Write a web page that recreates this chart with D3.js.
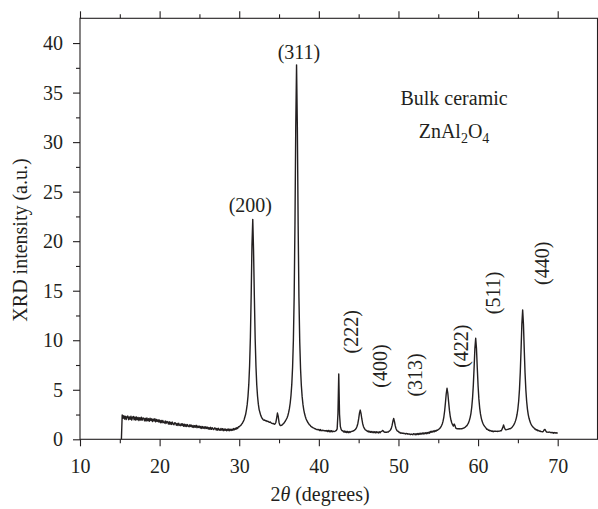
<!DOCTYPE html>
<html>
<head>
<meta charset="utf-8">
<script src="https://cdn.jsdelivr.net/npm/d3@7/dist/d3.min.js"></script>
<style>
  body { margin: 0; background: #fff; }
  svg { display: block; font-family: "Liberation Serif", "Times New Roman", serif; }
</style>
</head>
<body>
<svg></svg>
<script>
// step scan: first angle and step in 2theta (degrees)
var scanStart = 15.2;
var scanStep = 0.1;

// XRD intensity (a.u.), one row per degree
var intensity = [
  0.0, 2.45, 2.12, 2.38, 2.05, 2.32, 2.0, 2.3,                     // 15.2
  2.35, 1.98, 2.26, 2.02, 2.33, 1.95, 2.22, 2.3, 1.97, 2.25,       // 16
  1.94, 2.26, 1.98, 2.2, 1.9, 2.18, 1.95, 2.24, 1.92, 2.16,        // 17
  2.14, 1.86, 2.12, 1.84, 2.16, 1.88, 2.08, 1.82, 2.12, 1.9,       // 18
  2.07, 1.8, 2.04, 1.84, 2.08, 1.77, 2.0, 1.8, 1.98, 1.74,         // 19
  1.94, 1.68, 1.9, 1.66, 1.9, 1.7, 1.64, 1.86, 1.6, 1.8,           // 20
  1.76, 1.54, 1.78, 1.52, 1.72, 1.5, 1.74, 1.54, 1.47, 1.68,       // 21
  1.64, 1.41, 1.6, 1.39, 1.62, 1.42, 1.37, 1.58, 1.4, 1.56,        // 22
  1.32, 1.53, 1.3, 1.5, 1.29, 1.49, 1.33, 1.27, 1.48, 1.3,         // 23
  1.43, 1.22, 1.4, 1.2, 1.38, 1.22, 1.41, 1.17, 1.35, 1.2,         // 24
  1.33, 1.13, 1.3, 1.1, 1.29, 1.12, 1.26, 1.08, 1.27, 1.1,         // 25
  1.23, 1.03, 1.19, 1.01, 1.21, 1.0, 1.17, 1.04, 0.98, 1.15,       // 26
  1.13, 0.93, 1.1, 0.92, 1.11, 0.95, 0.9, 1.09, 0.93, 1.07,        // 27
  0.87, 1.05, 0.89, 1.03, 0.86, 1.02, 0.88, 1.05, 0.86, 1.01,      // 28
  0.89, 1.04, 0.91, 1.08, 0.96, 1.12, 1.01, 1.18, 1.09, 1.27,      // 29
  1.25, 1.36, 1.4, 1.53, 1.62, 1.79, 1.95, 2.22, 2.5, 2.95,        // 30
  3.5, 4.33, 5.54, 7.4, 10.25, 14.5, 19.6, 22.2, 19.0, 14.4,       // 31
  10.2, 7.4, 5.5, 4.35, 3.55, 3.0, 2.7, 2.42, 2.22, 2.1,           // 32
  1.98, 1.92, 1.95, 1.86, 1.88, 1.8, 1.83, 1.76, 1.72, 1.75,       // 33
  1.66, 1.62, 1.58, 1.6, 1.52, 1.55, 1.7, 2.15, 2.65, 2.3,         // 34
  1.7, 1.45, 1.38, 1.4, 1.45, 1.55, 1.62, 1.74, 1.85, 2.0,         // 35
  2.15, 2.38, 2.69, 3.09, 3.64, 4.42, 5.54, 7.24, 9.94, 14.4,      // 36
  21.7, 31.6, 37.8, 31.5, 21.6, 14.3, 9.85, 7.15, 5.45, 4.33,      // 37
  3.55, 3.0, 2.6, 2.3, 2.05, 1.88, 1.72, 1.6, 1.48, 1.42,          // 38
  1.3, 1.26, 1.2, 1.15, 1.12, 1.06, 1.04, 0.99, 1.0, 0.96,         // 39
  0.99, 0.88, 0.98, 0.86, 0.92, 0.87, 0.9, 0.85, 0.88, 0.83,       // 40
  0.89, 0.78, 0.9, 0.76, 0.88, 0.75, 0.87, 0.76, 0.82, 0.78,       // 41
  0.8, 0.84, 0.9, 1.05, 2.6, 6.6, 2.5, 1.3, 1.0, 0.88,             // 42
  0.86, 0.74, 0.84, 0.7, 0.81, 0.68, 0.8, 0.67, 0.78, 0.69,        // 43
  0.77, 0.79, 0.8, 0.84, 0.87, 0.94, 1.0, 1.13, 1.32, 1.6,         // 44
  2.06, 2.63, 2.95, 2.6, 2.05, 1.6, 1.3, 1.12, 1.0, 0.92,          // 45
  0.9, 0.79, 0.84, 0.72, 0.82, 0.7, 0.79, 0.68, 0.78, 0.67,        // 46
  0.76, 0.65, 0.77, 0.66, 0.75, 0.64, 0.76, 0.67, 0.78, 0.8,       // 47
  0.9, 0.84, 0.74, 0.7, 0.73, 0.7, 0.74, 0.72, 0.8, 0.86,          // 48
  0.95, 1.1, 1.4, 1.82, 2.1, 1.78, 1.35, 1.07, 0.9, 0.82,          // 49
  0.79, 0.67, 0.7, 0.6, 0.64, 0.61, 0.62, 0.57, 0.6, 0.53,         // 50
  0.59, 0.54, 0.56, 0.52, 0.54, 0.47, 0.53, 0.5, 0.46, 0.57,       // 51
  0.55, 0.45, 0.57, 0.47, 0.58, 0.48, 0.6, 0.5, 0.61, 0.53,        // 52
  0.63, 0.53, 0.65, 0.55, 0.66, 0.57, 0.69, 0.59, 0.71, 0.62,      // 53
  0.8, 0.7, 0.82, 0.73, 0.85, 0.77, 0.89, 0.81, 0.93, 0.91,        // 54
  0.98, 1.04, 1.12, 1.22, 1.36, 1.55, 1.83, 2.25, 2.86, 3.69,      // 55
  4.6, 5.15, 4.65, 3.78, 2.94, 2.33, 1.92, 1.65, 1.47, 1.33,       // 56
  1.54, 1.38, 1.13, 1.09, 1.06, 1.08, 1.04, 1.07, 1.05, 1.08,      // 57
  1.07, 1.11, 1.13, 1.19, 1.23, 1.31, 1.38, 1.52, 1.66, 1.9,       // 58
  2.19, 2.6, 3.21, 4.1, 5.42, 7.23, 9.18, 10.2, 9.15, 7.2,         // 59
  5.4, 4.08, 3.18, 2.56, 2.14, 1.84, 1.62, 1.46, 1.33, 1.23,       // 60
  1.13, 1.0, 1.01, 0.91, 0.93, 0.84, 0.88, 0.8, 0.84, 0.76,        // 61
  0.83, 0.81, 0.82, 0.8, 0.81, 0.79, 0.83, 0.82, 0.86, 0.85,       // 62
  1.0, 1.18, 1.45, 1.2, 1.02, 0.95, 0.97, 1.0, 1.02, 1.06,         // 63
  1.05, 1.1, 1.17, 1.25, 1.35, 1.48, 1.64, 1.86, 2.14, 2.53,       // 64
  3.08, 3.87, 5.04, 6.76, 9.1, 11.66, 13.06, 11.6, 9.05, 6.7,      // 65
  5.0, 3.84, 3.05, 2.5, 2.12, 1.84, 1.62, 1.46, 1.33, 1.23,        // 66
  1.17, 1.04, 1.05, 0.94, 0.96, 0.87, 0.9, 0.82, 0.85, 0.77,       // 67
  0.78, 0.75, 0.82, 0.95, 1.0, 0.85, 0.74, 0.72, 0.7, 0.73,        // 68
  0.72, 0.68, 0.7, 0.66, 0.69, 0.62, 0.68, 0.64, 0.66, 0.63,       // 69
  0.66                                                             // 70
];

// axis ticks
var xMajorTicks = [10, 20, 30, 40, 50, 60, 70];
var xMinorTicks = [15, 25, 35, 45, 55, 65];
var yMajorTicks = [0, 5, 10, 15, 20, 25, 30, 35, 40];
var yMinorTicks = [2.5, 7.5, 12.5, 17.5, 22.5, 27.5, 32.5, 37.5];

// reflections: label, 2theta and intensity where the label sits
var hklLabels   = ["(200)", "(311)", "(222)", "(400)", "(313)", "(422)", "(511)", "(440)"];
var hklAngle    = [31.4, 37.5, 44.1, 47.7, 52.1, 57.9, 61.9, 68.1];
var hklLevel    = [22.95, 38.35, 10.86, 7.4, 6.5, 9.4, 14.77, 17.77];
var hklVertical = [false, false, true, true, true, true, true, true];

var ink = "#231f20";
var fontSize = 20;

var svg = d3.select("svg")
  .attr("width", 598)
  .attr("height", 509);

var x = d3.scaleLinear()
  .domain([10, 75])
  .range([80, 597.5]);

var y = d3.scaleLinear()
  .domain([0, 42.5])
  .range([439.3, 18.3]);

var data = intensity.map(function(v, i){
  return { angle: scanStart + i * scanStep, value: v };
});

// frame
svg.append("rect")
  .attr("x", x(10))
  .attr("y", y(42.5))
  .attr("width", x(75) - x(10))
  .attr("height", y(0) - y(42.5))
  .attr("fill", "none")
  .attr("stroke", ink)
  .attr("stroke-width", 1.1);

function styleAxis(g){
  g.select(".domain").remove();
  g.selectAll("line").attr("stroke", ink).attr("stroke-width", 1.1);
  g.selectAll("text")
    .attr("fill", ink)
    .style("font-size", fontSize + "px")
    .style("font-family", '"Liberation Serif", serif');
}

// bottom axis
svg.append("g")
  .attr("transform", "translate(0," + y(0) + ")")
  .call(d3.axisBottom(x).tickValues(xMajorTicks).tickSize(7).tickFormat(d3.format("d")))
  .call(styleAxis)
  .selectAll("text").attr("y", 34).attr("dy", 0);

svg.append("g")
  .attr("transform", "translate(0," + y(0) + ")")
  .call(d3.axisBottom(x).tickValues(xMinorTicks).tickSize(4).tickFormat(""))
  .call(styleAxis);

// top axis, ticks only
svg.append("g")
  .attr("transform", "translate(0," + y(42.5) + ")")
  .call(d3.axisTop(x).tickValues(xMajorTicks).tickSize(7).tickFormat(""))
  .call(styleAxis);

svg.append("g")
  .attr("transform", "translate(0," + y(42.5) + ")")
  .call(d3.axisTop(x).tickValues(xMinorTicks).tickSize(4).tickFormat(""))
  .call(styleAxis);

// left axis
svg.append("g")
  .attr("transform", "translate(" + x(10) + ",0)")
  .call(d3.axisLeft(y).tickValues(yMajorTicks).tickSize(7).tickPadding(10).tickFormat(d3.format("d")))
  .call(styleAxis);

svg.append("g")
  .attr("transform", "translate(" + x(10) + ",0)")
  .call(d3.axisLeft(y).tickValues(yMinorTicks).tickSize(4).tickFormat(""))
  .call(styleAxis);

// pattern
var line = d3.line()
  .x(function(d){ return x(d.angle); })
  .y(function(d){ return y(d.value); });

svg.append("path")
  .datum(data)
  .attr("d", line)
  .attr("fill", "none")
  .attr("stroke", ink)
  .attr("stroke-width", 1.4)
  .attr("stroke-linejoin", "round");

// reflection labels
hklLabels.forEach(function(label, i){
  var px = x(hklAngle[i]), py = y(hklLevel[i]);
  var t = svg.append("text")
    .attr("fill", ink)
    .style("font-size", fontSize + "px")
    .attr("text-anchor", "middle")
    .text(label);
  if (hklVertical[i]) {
    t.attr("transform", "translate(" + px + "," + py + ") rotate(-90)")
      .attr("dy", "0.33em");
  } else {
    t.attr("x", px).attr("y", py);
  }
});

// sample name
svg.append("text")
  .attr("x", x(56.98))
  .attr("y", y(33.75))
  .attr("text-anchor", "middle")
  .attr("fill", ink)
  .style("font-size", fontSize + "px")
  .text("Bulk ceramic");

var formula = svg.append("text")
  .attr("x", x(56.98))
  .attr("y", y(30.39))
  .attr("text-anchor", "middle")
  .attr("fill", ink)
  .style("font-size", fontSize + "px");
formula.append("tspan").text("ZnAl");
formula.append("tspan").attr("dy", 5).style("font-size", "14px").text("2");
formula.append("tspan").attr("dy", -5).text("O");
formula.append("tspan").attr("dy", 5).style("font-size", "14px").text("4");

// axis titles
var xTitle = svg.append("text")
  .attr("x", 320)
  .attr("y", 501)
  .attr("text-anchor", "middle")
  .attr("fill", ink)
  .style("font-size", fontSize + "px");
xTitle.append("tspan").text("2");
xTitle.append("tspan").style("font-style", "italic").text("θ");
xTitle.append("tspan").text(" (degrees)");

svg.append("text")
  .attr("transform", "translate(27,240) rotate(-90)")
  .attr("text-anchor", "middle")
  .attr("fill", ink)
  .style("font-size", fontSize + "px")
  .text("XRD intensity (a.u.)");
</script>
</body>
</html>
